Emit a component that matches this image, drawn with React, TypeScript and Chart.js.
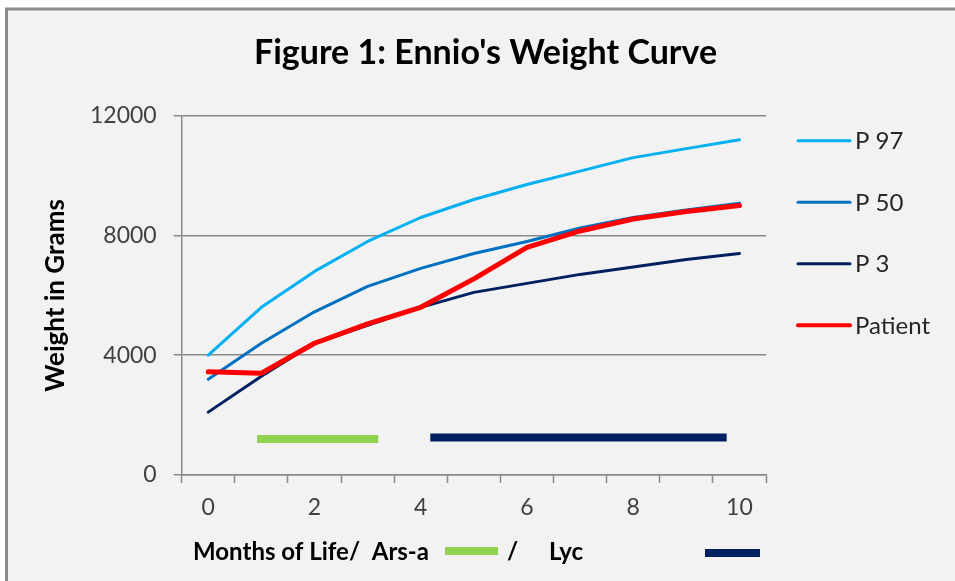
import React, { useEffect, useRef } from 'react';
import { Chart, registerables } from 'chart.js';

Chart.register(...registerables);

// ---------- data ----------
const months = [0, 1, 2, 3, 4, 5, 6, 7, 8, 9, 10];
const labelledMonths = [0, 2, 4, 6, 8, 10];
const p97 = [4000, 5600, 6800, 7800, 8600, 9200, 9700, 10150, 10600, 10900, 11200];
const p50 = [3200, 4400, 5450, 6300, 6900, 7400, 7800, 8250, 8600, 8850, 9080];
const p3 = [2100, 3300, 4400, 5000, 5600, 6100, 6400, 6700, 6950, 7200, 7400];
const patient = [3450, 3400, 4400, 5050, 5600, 6550, 7600, 8150, 8550, 8800, 9000];
const arsaMonths = [0.92, 3.2];
const arsaLevel = [1200, 1200];
const lycMonths = [4.18, 9.76];
const lycLevel = [1250, 1250];
const yTicks = [0, 4000, 8000, 12000];
const legendLabels = ['P 97', 'P 50', 'P 3', 'Patient'];
const chartTitle = "Figure 1: Ennio's Weight Curve";

const FONT = 'Lato, "Open Sans", sans-serif';
const W = 955;
const H = 581;

const pts = (xs: number[], ys: number[]) => xs.map((x, i) => ({ x, y: ys[i] }));

const bgPlugin = {
  id: 'bg',
  beforeDraw(chart: any) {
    const { ctx } = chart;
    ctx.save();
    ctx.fillStyle = '#ffffff';
    ctx.fillRect(0, 0, W, H);
    ctx.fillStyle = '#f2f2f2';
    ctx.fillRect(6, 9, W, H);
    ctx.strokeStyle = '#8c8c8c';
    ctx.lineWidth = 3;
    ctx.strokeRect(6.5, 9, W + 20, H + 20);
    ctx.restore();
  },
};

const titlePlugin = {
  id: 'figTitle',
  afterDraw(chart: any) {
    const { ctx } = chart;
    ctx.save();
    ctx.fillStyle = '#000';
    ctx.font = `bold 34px ${FONT}`;
    ctx.textAlign = 'center';
    ctx.textBaseline = 'alphabetic';
    ctx.fillText(chartTitle, 485.5, 64);
    ctx.restore();
  },
};

const legendPlugin = {
  id: 'sideLegend',
  afterDraw(chart: any) {
    const { ctx } = chart;
    ctx.save();
    chart.data.datasets.forEach((ds: any, i: number) => {
      if (!legendLabels.includes(ds.label)) return;
      const y = 140.7 + i * 61.5;
      ctx.strokeStyle = ds.borderColor;
      ctx.lineWidth = ds.label === 'Patient' ? 4 : 3;
      ctx.lineCap = 'round';
      ctx.beginPath();
      ctx.moveTo(798, y);
      ctx.lineTo(850, y);
      ctx.stroke();
      ctx.fillStyle = '#262626';
      ctx.font = `24px ${FONT}`;
      ctx.textBaseline = 'middle';
      ctx.textAlign = 'left';
      ctx.fillText(ds.label, 855, y + 1);
    });
    ctx.restore();
  },
};

const xTitlePlugin = {
  id: 'xTitle',
  afterDraw(chart: any) {
    const { ctx } = chart;
    ctx.save();
    ctx.fillStyle = '#000';
    ctx.font = `bold 24px ${FONT}`;
    ctx.textBaseline = 'alphabetic';
    ctx.textAlign = 'left';
    ctx.fillText('Months of Life/  Ars-a', 193, 560);
    ctx.fillText('/', 507, 560);
    ctx.fillText('Lyc', 549, 560);
    ctx.fillStyle = '#92d050';
    ctx.fillRect(445, 547, 53, 8);
    ctx.fillStyle = '#002060';
    ctx.fillRect(705, 549, 55, 8);
    ctx.restore();
  },
};

export default function App() {
  const ref = useRef<HTMLCanvasElement>(null);
  useEffect(() => {
    if (!ref.current) return;
    const boundaryTicks: number[] = [];
    for (let v = -0.5; v <= 10.5; v += 0.5) boundaryTicks.push(v);
    const chart = new Chart(ref.current, {
      type: 'line',
      data: {
        datasets: [
          { label: 'P 97', data: pts(months, p97), borderColor: '#00b0f0', borderWidth: 3, order: 3 },
          { label: 'P 50', data: pts(months, p50), borderColor: '#0070c0', borderWidth: 3, order: 2 },
          { label: 'P 3', data: pts(months, p3), borderColor: '#002060', borderWidth: 3, order: 1 },
          { label: 'Patient', data: pts(months, patient), borderColor: '#ff0000', borderWidth: 5, order: 0 },
          { label: 'Ars-a', data: pts(arsaMonths, arsaLevel), borderColor: '#92d050', borderWidth: 8, borderCapStyle: 'butt', order: 4 },
          { label: 'Lyc', data: pts(lycMonths, lycLevel), borderColor: '#002060', borderWidth: 8, borderCapStyle: 'butt', order: 4 },
        ] as any,
      },
      options: {
        responsive: false,
        animation: false,
        layout: { padding: { left: 0, right: 189, top: 115.7, bottom: 0 } },
        elements: {
          point: { radius: 0 },
          line: { tension: 0, borderJoinStyle: 'round', borderCapStyle: 'round' },
        },
        plugins: {
          legend: { display: false },
          tooltip: { enabled: false },
          title: { display: false },
        },
        scales: {
          x: {
            type: 'linear',
            min: -0.5,
            max: 10.5,
            afterBuildTicks: (s: any) => {
              s.ticks = boundaryTicks.map((v) => ({ value: v }));
            },
            afterFit: (s: any) => {
              s.height = 106;
            },
            border: { display: true, color: '#8a8a8a', width: 1.5 },
            grid: {
              drawOnChartArea: false,
              drawTicks: true,
              tickLength: 8,
              tickWidth: 1.5,
              tickColor: (c: any) => (Number.isInteger(c.tick?.value) ? 'rgba(0,0,0,0)' : '#8a8a8a'),
            },
            ticks: {
              autoSkip: false,
              maxRotation: 0,
              padding: 11,
              color: '#404040',
              font: { family: FONT, size: 23 },
              callback: (v: any) => (labelledMonths.includes(Number(v)) ? String(v) : ''),
            },
          },
          y: {
            min: 0,
            max: 12000,
            afterBuildTicks: (s: any) => {
              s.ticks = yTicks.map((v) => ({ value: v }));
            },
            afterFit: (s: any) => {
              s.width = 181.7;
            },
            border: { display: true, color: '#8a8a8a', width: 1.5 },
            grid: { color: '#8a8a8a', lineWidth: 1.5, tickLength: 8 },
            ticks: {
              padding: 17,
              color: '#404040',
              font: { family: FONT, size: 23 },
              callback: (v: any) => String(v),
            },
            title: {
              display: true,
              text: 'Weight in Grams',
              color: '#000',
              font: { family: FONT, size: 26, weight: 'bold' },
              padding: { top: 40 },
            },
          },
        },
      } as any,
      plugins: [bgPlugin, titlePlugin, legendPlugin, xTitlePlugin],
    });
    return () => chart.destroy();
  }, []);
  return (
    <canvas
      ref={ref}
      width={W}
      height={H}
      style={{ position: 'fixed', left: 0, top: 0, width: W, height: H, display: 'block' }}
    />
  );
}
